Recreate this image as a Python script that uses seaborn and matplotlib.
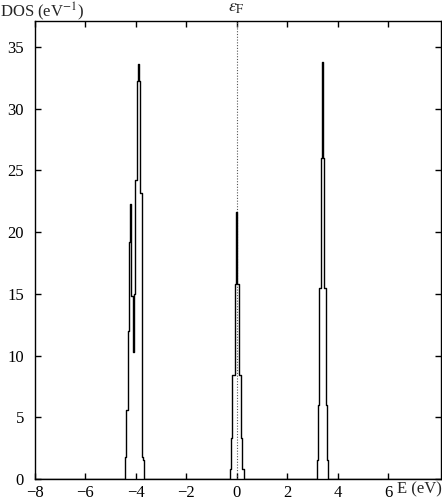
import numpy as np
import pandas as pd
import seaborn as sns
import matplotlib
matplotlib.use("Agg")
import matplotlib.pyplot as plt
import matplotlib.transforms as mtransforms

# Density of states (eV, states/eV), step histogram
E_left = [-4.45, -4.40, -4.35, -4.30, -4.25, -4.20, -4.15, -4.10, -4.05,
          -4.00, -3.95, -3.90, -3.85, -3.80, -3.75, -3.70, -3.65]
dos_left = [0.0, 1.8, 5.6, 12.0, 19.2, 22.3, 14.8, 10.3, 15.0,
            24.2, 32.2, 33.6, 32.2, 23.2, 1.8, 1.5, 0.0]

E_mid = [-0.30, -0.25, -0.20, -0.15, -0.10, -0.05, 0.00,
         0.05, 0.10, 0.15, 0.20, 0.25, 0.30]
dos_mid = [0.0, 0.8, 3.3, 8.4, 8.4, 15.8, 21.6,
           15.8, 8.4, 8.4, 3.3, 0.8, 0.0]

E_right = [3.15, 3.20, 3.25, 3.30, 3.35, 3.40, 3.45, 3.50, 3.55, 3.60, 3.65]
dos_right = [0.0, 1.5, 6.0, 15.5, 26.0, 33.8, 26.0, 15.5, 6.0, 1.5, 0.0]

x_ticks = [-8, -6, -4, -2, 0, 2, 4, 6]
y_ticks = [0, 5, 10, 15, 20, 25, 30, 35]

df = pd.DataFrame({
    "E": [-8.0] + E_left + E_mid + E_right + [8.1],
    "DOS": [0.0] + dos_left + dos_mid + dos_right + [0.0],
})

sns.set_style("ticks")
plt.rcParams["font.family"] = ["Liberation Serif", "DejaVu Serif"]
plt.rcParams["mathtext.fontset"] = "stix"

fig = plt.figure(figsize=(4.42, 5.0), dpi=100)
ax = fig.add_axes([35 / 442, 21 / 500, 406 / 442, 458 / 500])

ax.axvline(0, color="#555555", ls=(0, (1, 1.5)), lw=0.8, zorder=1)
sns.lineplot(data=df, x="E", y="DOS", ax=ax, color="black", lw=1.0,
             drawstyle="steps-mid", estimator=None, sort=False, zorder=2)

ax.set_xlim(-8, 8.1)
ax.set_ylim(0, 37.1)
ax.set_xticks(x_ticks)
ax.set_yticks(y_ticks)
ax.set_xticklabels([f"{t}".replace("-", "\u2212") for t in x_ticks])
ax.tick_params(direction="in", length=4, width=1, top=True, right=True,
               labelsize=12, colors="black")
ax.tick_params(axis="x", pad=4)
ax.tick_params(axis="y", pad=8)
for s in ax.spines.values():
    s.set_linewidth(1.0)
    s.set_color("black")
ax.set_xlabel("")
ax.set_ylabel("")

fig.text(0.0, 0.998, r"DOS (eV$^{-1}$)", ha="left", va="top", fontsize=12)
fig.text(1.0, 0.006, "E (eV)", ha="right", va="bottom", fontsize=12)

trans = mtransforms.blended_transform_factory(ax.transData, ax.transAxes)
ax.text(0, 1.012, r"$\varepsilon_{\mathrm{F}}$", transform=trans,
        ha="center", va="bottom", fontsize=13)

fig.savefig("out.png", dpi=100)
